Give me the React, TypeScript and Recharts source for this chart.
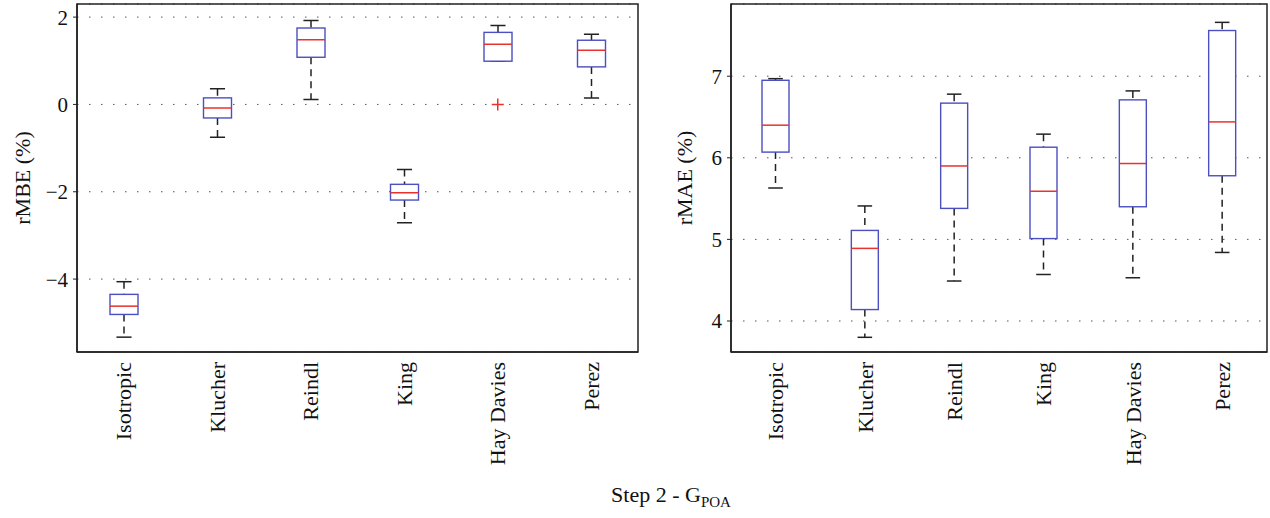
import React from 'react';
import {
  ComposedChart,
  Bar,
  Scatter,
  XAxis,
  YAxis,
  CartesianGrid,
  ReferenceArea,
} from 'recharts';

const categories = ['Isotropic', 'Klucher', 'Reindl', 'King', 'Hay Davies', 'Perez'];

// rMBE (%) box statistics
const rmbeLow = [-5.33, -0.75, 0.11, -2.71, 0.99, 0.15];
const rmbeQ1 = [-4.81, -0.31, 1.08, -2.19, 0.99, 0.86];
const rmbeMedian = [-4.62, -0.08, 1.48, -2.02, 1.38, 1.24];
const rmbeQ3 = [-4.35, 0.15, 1.75, -1.83, 1.65, 1.47];
const rmbeHigh = [-4.06, 0.36, 1.92, -1.49, 1.81, 1.61];
const rmbeOutlier = [null, null, null, null, 0.0, null];
const rmbeTicks = [-4, -2, 0, 2];

// rMAE (%) box statistics
const rmaeLow = [5.63, 3.8, 4.49, 4.57, 4.53, 4.84];
const rmaeQ1 = [6.07, 4.14, 5.38, 5.01, 5.4, 5.78];
const rmaeMedian = [6.4, 4.89, 5.9, 5.59, 5.93, 6.44];
const rmaeQ3 = [6.95, 5.11, 6.67, 6.13, 6.71, 7.56];
const rmaeHigh = [6.97, 5.41, 6.78, 6.29, 6.82, 7.66];
const rmaeOutlier = [null, null, null, null, null, null];
const rmaeTicks = [4, 5, 6, 7];

const FONT = '"Liberation Serif", "DejaVu Serif", serif';
const BLUE = '#4b4fc0';
const RED = '#e8322c';

type Row = {
  name: string;
  low: number;
  q1: number;
  median: number;
  q3: number;
  high: number;
  outlier: number | null;
};

const buildRows = (
  low: number[],
  q1: number[],
  median: number[],
  q3: number[],
  high: number[],
  outlier: (number | null)[]
): Row[] =>
  categories.map((name, i) => ({
    name,
    low: low[i],
    q1: q1[i],
    median: median[i],
    q3: q3[i],
    high: high[i],
    outlier: outlier[i],
  }));

const rmbeRows = buildRows(rmbeLow, rmbeQ1, rmbeMedian, rmbeQ3, rmbeHigh, rmbeOutlier);
const rmaeRows = buildRows(rmaeLow, rmaeQ1, rmaeMedian, rmaeQ3, rmaeHigh, rmaeOutlier);

// the bar spans low..high; inner positions come from the same pixel range
const BoxShape = (props: any) => {
  const { x, y, width, height, payload } = props;
  if (![x, y, width, height].every(Number.isFinite)) return <g />;
  const { low, q1, median, q3, high } = payload as Row;
  const span = high - low || 1;
  const py = (v: number) => y + (height * (high - v)) / span;
  const cx = x + width / 2;
  const cap = width * 0.27;
  return (
    <g>
      <line x1={cx} x2={cx} y1={py(high)} y2={py(q3)} stroke="#222" strokeWidth={1.5} strokeDasharray="7 5" />
      <line x1={cx} x2={cx} y1={py(q1)} y2={py(low)} stroke="#222" strokeWidth={1.5} strokeDasharray="7 5" />
      <line x1={cx - cap} x2={cx + cap} y1={py(high)} y2={py(high)} stroke="#222" strokeWidth={1.5} />
      <line x1={cx - cap} x2={cx + cap} y1={py(low)} y2={py(low)} stroke="#222" strokeWidth={1.5} />
      <rect x={x} y={py(q3)} width={width} height={py(q1) - py(q3)} fill="#fff" stroke={BLUE} strokeWidth={1.4} />
      <line x1={x} x2={x + width} y1={py(median)} y2={py(median)} stroke={RED} strokeWidth={1.5} />
    </g>
  );
};

const PlusShape = (props: any) => {
  const { cx, cy } = props;
  if (!Number.isFinite(cx) || !Number.isFinite(cy)) return <g />;
  return (
    <path d={`M${cx - 6},${cy}H${cx + 6}M${cx},${cy - 6}V${cy + 6}`} stroke={RED} strokeWidth={1.5} fill="none" />
  );
};

const CategoryTick = (props: any) => {
  const { x, y, payload } = props;
  return (
    <text
      x={x}
      y={y}
      transform={`rotate(-90, ${x}, ${y})`}
      textAnchor="end"
      dominantBaseline="central"
      fontFamily={FONT}
      fontSize={22}
      fill="#111"
    >
      {payload.value}
    </text>
  );
};

type PanelProps = {
  rows: Row[];
  domain: [number, number];
  ticks: number[];
  label: string;
  width: number;
  axisWidth: number;
  labelX: number;
  barSize: number;
};

const BoxPanel = ({ rows, domain, ticks, label, width, axisWidth, labelX, barSize }: PanelProps) => (
  <ComposedChart
    width={width}
    height={518}
    data={rows}
    margin={{ top: 4, right: 3, bottom: 0, left: 0 }}
  >
    <CartesianGrid vertical={false} stroke="#555" strokeDasharray="1.5 10.5" />
    <XAxis
      dataKey="name"
      height={166}
      interval={0}
      tickLine={false}
      tickSize={0}
      tickMargin={10}
      axisLine={{ stroke: '#222', strokeWidth: 1.5 }}
      tick={<CategoryTick />}
    />
    <YAxis
      type="number"
      domain={domain}
      ticks={ticks}
      width={axisWidth}
      allowDataOverflow
      tickSize={4}
      tickMargin={5}
      tickLine={{ stroke: '#222' }}
      axisLine={{ stroke: '#222', strokeWidth: 1.5 }}
      tick={{ fontFamily: FONT, fontSize: 21, fill: '#111' }}
      tickFormatter={(v: number) => String(v).replace('-', '\u2212')}
      label={{
        content: () => (
          <text
            x={labelX}
            y={178}
            transform={`rotate(-90, ${labelX}, 178)`}
            textAnchor="middle"
            dominantBaseline="central"
            fontFamily={FONT}
            fontSize={22}
            fill="#111"
          >
            {label}
          </text>
        ),
      }}
    />
    <ReferenceArea y1={domain[0]} y2={domain[1]} fill="none" stroke="#222" strokeWidth={1.5} />
    <Bar
      dataKey={(r: Row) => [r.low, r.high]}
      barSize={barSize}
      shape={<BoxShape />}
      isAnimationActive={false}
    />
    <Scatter dataKey="outlier" shape={<PlusShape />} isAnimationActive={false} />
  </ComposedChart>
);

export default function App() {
  return (
    <div
      style={{
        position: 'absolute',
        left: 0,
        top: 0,
        width: 1270,
        height: 518,
        background: '#fff',
        fontFamily: FONT,
      }}
    >
      <div style={{ position: 'absolute', left: 0, top: 0 }}>
        <BoxPanel
          rows={rmbeRows}
          domain={[-5.67, 2.3]}
          ticks={rmbeTicks}
          label="rMBE (%)"
          width={641}
          axisWidth={77}
          labelX={22}
          barSize={28}
        />
      </div>
      <div style={{ position: 'absolute', left: 640, top: 0 }}>
        <BoxPanel
          rows={rmaeRows}
          domain={[3.62, 7.885]}
          ticks={rmaeTicks}
          label="rMAE (%)"
          width={630}
          axisWidth={91}
          labelX={44}
          barSize={27}
        />
      </div>
      <div
        style={{
          position: 'absolute',
          left: 36,
          width: 1270,
          top: 482,
          textAlign: 'center',
          fontSize: 22,
          color: '#111',
        }}
      >
        Step 2 - G<sub style={{ fontSize: 15 }}>POA</sub>
      </div>
    </div>
  );
}
